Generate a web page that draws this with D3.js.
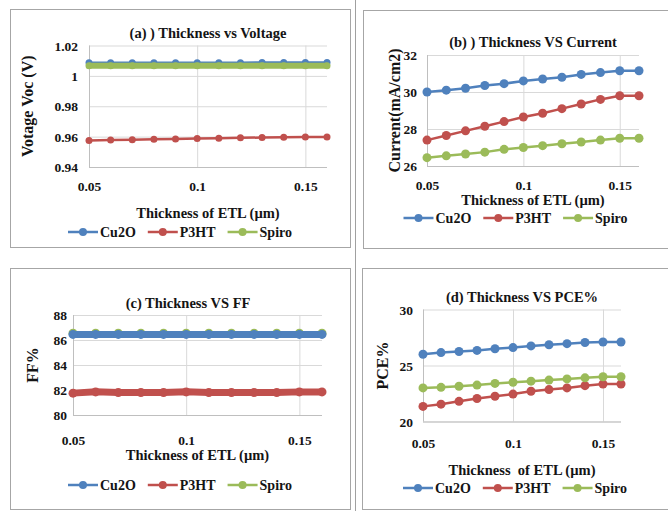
<!DOCTYPE html>
<html>
<head>
<meta charset="utf-8">
<script src="https://cdn.jsdelivr.net/npm/d3@7"></script>
<style>
body { margin: 0; background: #fff; }
text { font-family: "Liberation Serif", "Times New Roman", serif; font-weight: bold; fill: #141414; }
</style>
</head>
<body>
<div id="chart"></div>
<script>
// thickness of ETL (um), shared x values
const thickness = [0.05, 0.06, 0.07, 0.08, 0.09, 0.10, 0.11, 0.12, 0.13, 0.14, 0.15, 0.16]
const seriesNames = ['Cu2O', 'P3HT', 'Spiro']
const xTicks = [0.05, 0.1, 0.15]

// (a) Voc
const vocCu2O = [1.0086, 1.0087, 1.0087, 1.0087, 1.0087, 1.0087, 1.0087, 1.0087, 1.0088, 1.0088, 1.0088, 1.0088]
const vocP3HT = [0.9575, 0.9578, 0.9580, 0.9583, 0.9585, 0.9588, 0.9590, 0.9592, 0.9594, 0.9596, 0.9598, 0.9598]
const vocSpiro = [1.0066, 1.0066, 1.0066, 1.0066, 1.0066, 1.0066, 1.0066, 1.0066, 1.0066, 1.0066, 1.0066, 1.0066]
const vocTicks = [0.94, 0.96, 0.98, 1, 1.02]

// (b) Jsc
const jscCu2O = [30.0, 30.1, 30.2, 30.35, 30.45, 30.6, 30.7, 30.8, 30.95, 31.05, 31.15, 31.15]
const jscP3HT = [27.4, 27.65, 27.9, 28.15, 28.4, 28.65, 28.85, 29.1, 29.35, 29.6, 29.8, 29.8]
const jscSpiro = [26.45, 26.55, 26.65, 26.75, 26.9, 27.0, 27.1, 27.2, 27.3, 27.4, 27.5, 27.5]
const jscTicks = [26, 28, 30, 32]

// (c) FF
const ffCu2O = [86.45, 86.45, 86.45, 86.45, 86.45, 86.45, 86.45, 86.45, 86.45, 86.45, 86.45, 86.45]
const ffP3HT = [81.75, 81.85, 81.8, 81.8, 81.8, 81.85, 81.8, 81.8, 81.8, 81.8, 81.85, 81.85]
const ffSpiro = [86.55, 86.55, 86.55, 86.55, 86.55, 86.55, 86.55, 86.55, 86.55, 86.55, 86.55, 86.55]
const ffTicks = [80, 82, 84, 86, 88]

// (d) PCE
const pceCu2O = [26.0, 26.15, 26.25, 26.35, 26.5, 26.6, 26.75, 26.85, 26.95, 27.05, 27.1, 27.1]
const pceP3HT = [21.35, 21.55, 21.8, 22.05, 22.25, 22.45, 22.7, 22.85, 23.0, 23.2, 23.35, 23.35]
const pceSpiro = [23.0, 23.05, 23.15, 23.25, 23.4, 23.5, 23.6, 23.7, 23.8, 23.9, 24.0, 24.0]
const pceTicks = [20, 25, 30]

const colors = {Cu2O: '#4f81bd', P3HT: '#c0504d', Spiro: '#9bbb59'}

const panels = [
	{title: '(a) ) Thickness vs Voltage', yLabel: 'Votage Voc (V)', xLabel: 'Thickness of ETL (\u00b5m)',
	 values: [vocCu2O, vocP3HT, vocSpiro], yTicks: vocTicks, order: [0, 1, 2], widths: [2.5, 2.5, 6], r: 3.5,
	 box: [10, 9, 340, 238], plot: [89, 327, 45.5, 167], tickGap: 11,
	 titleY: 33, yLabelX: 27, xTickY: 186, xLabelY: 213, legendY: 232},
	{title: '(b) ) Thickness VS Current', yLabel: 'Current(mA/cm2)', xLabel: 'Thickness of ETL (\u00b5m)',
	 values: [jscCu2O, jscP3HT, jscSpiro], yTicks: jscTicks, order: [0, 1, 2], widths: [2.5, 2.5, 2.5], r: 4.5,
	 box: [363, 10, 305, 238], plot: [427, 639, 55, 166], tickGap: 10,
	 titleY: 42, yLabelX: 394, xTickY: 185, xLabelY: 200, legendY: 218},
	{title: '(c) Thickness VS FF', yLabel: 'FF%', xLabel: 'Thickness of ETL (\u00b5m)', titleX: 188,
	 values: [ffCu2O, ffP3HT, ffSpiro], yTicks: ffTicks, order: [2, 0, 1], widths: [7, 7, 2.5], r: 4.5,
	 box: [10, 268, 340, 241], plot: [73, 322, 315, 415], tickGap: 6,
	 titleY: 303, yLabelX: 32, xTickY: 440, xLabelY: 455, legendY: 485},
	{title: '(d) Thickness VS PCE%', yLabel: 'PCE%', xLabel: 'Thickness  of ETL (\u00b5m)',
	 values: [pceCu2O, pceP3HT, pceSpiro], yTicks: pceTicks, order: [0, 1, 2], widths: [2.5, 2.5, 2.5], r: 4.5,
	 box: [362, 268, 306, 241], plot: [423, 621, 309.5, 421.5], tickGap: 10,
	 titleY: 297, yLabelX: 382, xTickY: 443, xLabelY: 470, legendY: 488}
]

const svg = d3.select('#chart').append('svg')
	.attr('width', 668)
	.attr('height', 511)

// divider line between the two columns
svg.append('line')
	.attr('x1', 355.5).attr('x2', 355.5)
	.attr('y1', 0).attr('y2', 511)
	.attr('stroke', '#a0a0a0')

function drawPanel(p) {
	let g = svg.append('g')
	let [bx, by, bw, bh] = p.box
	let [l, r, t, b] = p.plot

	g.append('rect')
		.attr('x', bx + 0.5).attr('y', by + 0.5)
		.attr('width', bw).attr('height', bh)
		.attr('fill', 'none')
		.attr('stroke', '#a6a6a6')

	let x = d3.scaleLinear().domain([0.05, 0.16]).range([l, r])
	let y = d3.scaleLinear().domain(d3.extent(p.yTicks)).range([b, t])

	// gridlines
	g.append('g')
		.attr('transform', 'translate(' + l + ',0)')
		.call(d3.axisLeft(y).tickValues(p.yTicks).tickSize(-(r - l)).tickFormat(''))
		.call(a => a.select('.domain').remove())
		.call(a => a.selectAll('line').attr('stroke', '#d9d9d9'))
	g.append('g')
		.attr('transform', 'translate(0,' + t + ')')
		.call(d3.axisBottom(x).tickValues(xTicks.slice(1)).tickSize(b - t).tickFormat(''))
		.call(a => a.select('.domain').remove())
		.call(a => a.selectAll('line').attr('stroke', '#d9d9d9'))

	// axis lines
	g.append('line').attr('x1', l).attr('x2', r).attr('y1', b + 0.5).attr('y2', b + 0.5).attr('stroke', '#bfbfbf')
	g.append('line').attr('x1', l + 0.5).attr('x2', l + 0.5).attr('y1', t).attr('y2', b).attr('stroke', '#bfbfbf')

	// tick labels
	g.append('g')
		.attr('transform', 'translate(' + (l - p.tickGap) + ',0)')
		.call(d3.axisLeft(y).tickValues(p.yTicks).tickSize(0).tickPadding(0).tickFormat(d => String(d)))
		.call(a => a.select('.domain').remove())
		.call(a => a.selectAll('text').attr('font-size', 13.5).attr('font-family', null).attr('fill', null).attr('dy', '0.35em'))
	g.append('g')
		.attr('transform', 'translate(0,' + p.xTickY + ')')
		.call(d3.axisBottom(x).tickValues(xTicks).tickSize(0).tickPadding(0).tickFormat(d => String(d)))
		.call(a => a.select('.domain').remove())
		.call(a => a.selectAll('text').attr('font-size', 13.5).attr('font-family', null).attr('fill', null).attr('dy', '0.35em'))

	// series
	let line = d3.line().x((d, i) => x(thickness[i])).y(d => y(d))
	for (let k of p.order) {
		let name = seriesNames[k]
		g.append('path')
			.attr('d', line(p.values[k]))
			.attr('fill', 'none')
			.attr('stroke', colors[name])
			.attr('stroke-width', p.widths[k])
		g.selectAll(null).data(p.values[k]).enter().append('circle')
			.attr('cx', (d, i) => x(thickness[i]))
			.attr('cy', d => y(d))
			.attr('r', p.r)
			.attr('fill', colors[name])
	}

	// titles
	let cx = (l + r) / 2
	g.append('text').attr('x', p.titleX || cx).attr('y', p.titleY).attr('dy', '0.35em')
		.attr('text-anchor', 'middle').attr('font-size', 14.5).text(p.title)
	g.append('text').attr('x', cx).attr('y', p.xLabelY).attr('dy', '0.35em')
		.attr('text-anchor', 'middle').attr('font-size', 14.5)
		.style('white-space', 'pre').text(p.xLabel)
	g.append('text')
		.attr('transform', 'translate(' + p.yLabelX + ',' + ((t + b) / 2) + ') rotate(-90)')
		.attr('text-anchor', 'middle').attr('dy', '0.35em').attr('font-size', 16)
		.text(p.yLabel)

	// legend
	let lg = g.append('g')
	let pos = 0
	for (let k = 0; k < seriesNames.length; k++) {
		let name = seriesNames[k]
		let item = lg.append('g').attr('transform', 'translate(' + pos + ',' + p.legendY + ')')
		item.append('line').attr('x1', 0).attr('x2', 30).attr('stroke', colors[name]).attr('stroke-width', 2.5)
		item.append('circle').attr('cx', 15).attr('r', 4).attr('fill', colors[name])
		let txt = item.append('text').attr('x', 32).attr('dy', '0.35em').attr('font-size', 14).text(name)
		pos += 32 + txt.node().getComputedTextLength() + 12
	}
	pos -= 12
	lg.attr('transform', 'translate(' + (bx + bw / 2 - pos / 2) + ',0)')
}

for (let p of panels) drawPanel(p)
</script>
</body>
</html>
